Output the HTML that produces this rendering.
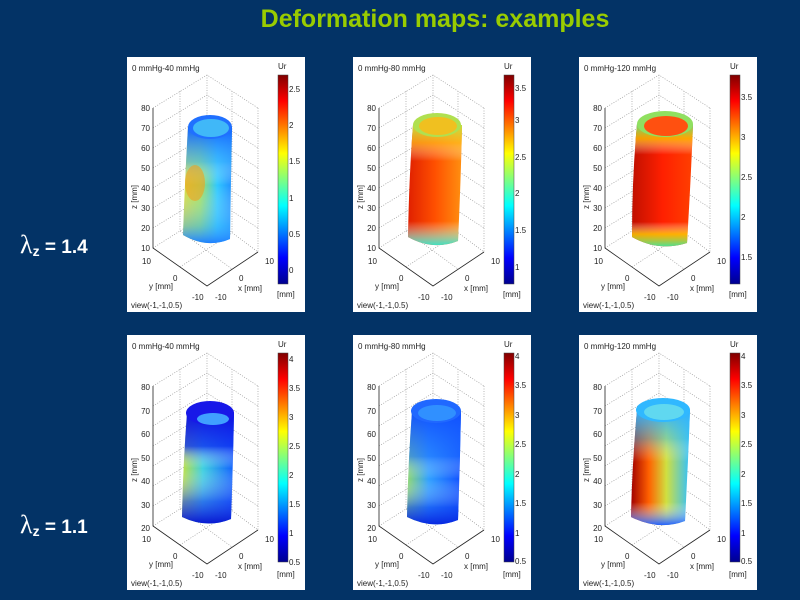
<!DOCTYPE html>
<html><head><meta charset="utf-8"><style>
html,body{margin:0;padding:0;background:#033366;}
svg{display:block;}
text{font-family:"Liberation Sans",sans-serif;}
.t{font-size:8px;fill:#222;}
</style></head><body>
<svg width="800" height="600" viewBox="0 0 800 600" xmlns="http://www.w3.org/2000/svg">
<defs>
<linearGradient id="jet" x1="0" y1="1" x2="0" y2="0">
<stop offset="0" stop-color="#00008f"/><stop offset="0.125" stop-color="#0000ff"/><stop offset="0.375" stop-color="#00ffff"/><stop offset="0.625" stop-color="#ffff00"/><stop offset="0.875" stop-color="#ff0000"/><stop offset="1" stop-color="#800000"/>
</linearGradient>
<linearGradient id="h1" x1="0" x2="1"><stop offset="0" stop-color="#d8d838"/><stop offset="0.35" stop-color="#a0e060"/><stop offset="0.7" stop-color="#30c8ff"/><stop offset="1" stop-color="#2090ff"/></linearGradient>
<linearGradient id="v1" x1="0" y1="0" x2="0" y2="1"><stop offset="0" stop-color="#1060ff"/><stop offset="0.3" stop-color="#40b0ff" stop-opacity="0.6"/><stop offset="0.5" stop-color="#fff" stop-opacity="0"/><stop offset="0.85" stop-color="#40b0ff" stop-opacity="0.5"/><stop offset="1" stop-color="#2080ff"/></linearGradient>
<linearGradient id="h2" x1="0" x2="1"><stop offset="0" stop-color="#e02000"/><stop offset="0.5" stop-color="#ff5000"/><stop offset="1" stop-color="#ff9010"/></linearGradient>
<linearGradient id="v2" x1="0" y1="0" x2="0" y2="1"><stop offset="0" stop-color="#c0e040"/><stop offset="0.15" stop-color="#ffc020" stop-opacity="0.7"/><stop offset="0.3" stop-color="#fff" stop-opacity="0"/><stop offset="0.8" stop-color="#fff" stop-opacity="0"/><stop offset="1" stop-color="#40e0c0"/></linearGradient>
<linearGradient id="h3" x1="0" x2="1"><stop offset="0" stop-color="#c01000"/><stop offset="0.5" stop-color="#ff2000"/><stop offset="1" stop-color="#ff4000"/></linearGradient>
<linearGradient id="v3" x1="0" y1="0" x2="0" y2="1"><stop offset="0" stop-color="#60e080"/><stop offset="0.12" stop-color="#ffc000" stop-opacity="0.8"/><stop offset="0.25" stop-color="#fff" stop-opacity="0"/><stop offset="0.8" stop-color="#fff" stop-opacity="0"/><stop offset="0.9" stop-color="#ffd000" stop-opacity="0.8"/><stop offset="1" stop-color="#50e090"/></linearGradient>
<linearGradient id="h4" x1="0" x2="1"><stop offset="0" stop-color="#c0e040"/><stop offset="0.4" stop-color="#40d0e0"/><stop offset="1" stop-color="#1060ff"/></linearGradient>
<linearGradient id="v4" x1="0" y1="0" x2="0" y2="1"><stop offset="0" stop-color="#1010e0"/><stop offset="0.3" stop-color="#1030f0" stop-opacity="0.8"/><stop offset="0.5" stop-color="#fff" stop-opacity="0"/><stop offset="0.8" stop-color="#2040f0" stop-opacity="0.6"/><stop offset="1" stop-color="#0818d0"/></linearGradient>
<linearGradient id="h5" x1="0" x2="1"><stop offset="0" stop-color="#90d870"/><stop offset="0.4" stop-color="#30a0ff"/><stop offset="1" stop-color="#1050ff"/></linearGradient>
<linearGradient id="v5" x1="0" y1="0" x2="0" y2="1"><stop offset="0" stop-color="#1050ff"/><stop offset="0.4" stop-color="#2070ff" stop-opacity="0.6"/><stop offset="0.6" stop-color="#fff" stop-opacity="0"/><stop offset="0.85" stop-color="#1040f0" stop-opacity="0.6"/><stop offset="1" stop-color="#0828e0"/></linearGradient>
<linearGradient id="h6" x1="0" x2="1"><stop offset="0" stop-color="#a00000"/><stop offset="0.3" stop-color="#ff6000"/><stop offset="0.6" stop-color="#d0e040"/><stop offset="1" stop-color="#30c0ff"/></linearGradient>
<linearGradient id="v6" x1="0" y1="0" x2="0" y2="1"><stop offset="0" stop-color="#30b0ff"/><stop offset="0.25" stop-color="#40c0f0" stop-opacity="0.5"/><stop offset="0.45" stop-color="#fff" stop-opacity="0"/><stop offset="0.8" stop-color="#fff" stop-opacity="0"/><stop offset="1" stop-color="#2060ff"/></linearGradient>
<g id="boxA" fill="none">
<g stroke="#9a9a9a" stroke-width="0.7" stroke-dasharray="1,1.5">
<path d="M26 51L80 18L131 51M80 18V157M26 191L80 157L131 195M131 51V195M53 34V174M105 34V176"/>
<path d="M26 71L80 38L131 71M26 91L80 58L131 91M26 111L80 78L131 111M26 131L80 98L131 131M26 151L80 118L131 151M26 171L80 138L131 171"/>
<path d="M53 210L105 176M53 174L105 212"/>
</g>
<path d="M26 51V191L80 229L131 195" stroke="#222" stroke-width="0.8"/>
</g>
<g id="cbar"><rect x="151" y="18" width="10" height="209" fill="url(#jet)" stroke="#444" stroke-width="0.5"/></g>
</defs>

<rect width="800" height="600" fill="#033366"/>
<text x="435" y="27" text-anchor="middle" font-size="25" font-weight="bold" fill="#99cc00" style="font-family:'Liberation Sans',sans-serif">Deformation maps: examples</text>

<text x="20" y="253" fill="#fff" font-size="19" font-weight="bold"><tspan font-size="26" font-weight="normal" style="font-family:'Liberation Serif',serif">λ</tspan><tspan font-size="14" dy="3">z</tspan><tspan dy="-3"> = 1.4</tspan></text>
<text x="20" y="533" fill="#fff" font-size="19" font-weight="bold"><tspan font-size="26" font-weight="normal" style="font-family:'Liberation Serif',serif">λ</tspan><tspan font-size="14" dy="3">z</tspan><tspan dy="-3"> = 1.1</tspan></text>

<!-- Panel 1 -->
<g transform="translate(127,57)">
<rect width="178" height="255" fill="#fff"/>
<use href="#boxA"/>
<path d="M61 70 Q58 120 56 178 Q80 192 103 182 Q104 120 105 70 Z" fill="url(#h1)"/>
<path d="M61 70 Q58 120 56 178 Q80 192 103 182 Q104 120 105 70 Z" fill="url(#v1)"/>
<ellipse cx="83" cy="70" rx="22" ry="12" fill="#2070ff"/><ellipse cx="84" cy="71" rx="18" ry="9" fill="#40b8f8"/>
<ellipse cx="68" cy="126" rx="10" ry="18" fill="#f0a020" opacity="0.6"/>
<text class="t" x="5" y="14">0 mmHg-40 mmHg</text><text class="t" x="151" y="12">Ur</text>
<use href="#cbar"/>
<g class="t"><text x="162" y="35">2.5</text><text x="162" y="71">2</text><text x="162" y="107">1.5</text><text x="162" y="144">1</text><text x="162" y="180">0.5</text><text x="162" y="216">0</text></g>
<text class="t" x="150" y="240">[mm]</text>
<g class="t" text-anchor="end"><text x="23" y="54">80</text><text x="23" y="74">70</text><text x="23" y="94">60</text><text x="23" y="114">50</text><text x="23" y="134">40</text><text x="23" y="154">30</text><text x="23" y="174">20</text><text x="23" y="194">10</text></g>
<text class="t" transform="translate(10,140) rotate(-90)" text-anchor="middle">z [mm]</text>
<g class="t"><text x="15" y="207">10</text><text x="46" y="224">0</text><text x="65" y="243">-10</text><text x="88" y="243">-10</text><text x="112" y="224">0</text><text x="138" y="207">10</text><text x="22" y="232">y [mm]</text><text x="111" y="234">x [mm]</text><text x="4" y="251">view(-1,-1,0.5)</text></g>
</g>

<!-- Panel 2 -->
<g transform="translate(353,57)">
<rect width="178" height="255" fill="#fff"/>
<use href="#boxA"/>
<path d="M60 68 Q56 120 55 180 Q80 194 105 184 Q108 120 109 68 Z" fill="url(#h2)"/>
<path d="M60 68 Q56 120 55 180 Q80 194 105 184 Q108 120 109 68 Z" fill="url(#v2)"/>
<ellipse cx="84" cy="68" rx="24" ry="12" fill="#b0e050"/><ellipse cx="85" cy="69" rx="19" ry="9" fill="#f0c020"/>
<text class="t" x="5" y="14">0 mmHg-80 mmHg</text><text class="t" x="151" y="12">Ur</text>
<use href="#cbar"/>
<g class="t"><text x="162" y="34">3.5</text><text x="162" y="66">3</text><text x="162" y="103">2.5</text><text x="162" y="139">2</text><text x="162" y="176">1.5</text><text x="162" y="213">1</text></g>
<text class="t" x="150" y="240">[mm]</text>
<g class="t" text-anchor="end"><text x="23" y="54">80</text><text x="23" y="74">70</text><text x="23" y="94">60</text><text x="23" y="114">50</text><text x="23" y="134">40</text><text x="23" y="154">30</text><text x="23" y="174">20</text><text x="23" y="194">10</text></g>
<text class="t" transform="translate(10,140) rotate(-90)" text-anchor="middle">z [mm]</text>
<g class="t"><text x="15" y="207">10</text><text x="46" y="224">0</text><text x="65" y="243">-10</text><text x="88" y="243">-10</text><text x="112" y="224">0</text><text x="138" y="207">10</text><text x="22" y="232">y [mm]</text><text x="111" y="234">x [mm]</text><text x="4" y="251">view(-1,-1,0.5)</text></g>
</g>

<!-- Panel 3 -->
<g transform="translate(579,57)">
<rect width="178" height="255" fill="#fff"/>
<use href="#boxA"/>
<path d="M58 67 Q53 120 53 180 Q80 195 108 186 Q112 120 114 67 Z" fill="url(#h3)"/>
<path d="M58 67 Q53 120 53 180 Q80 195 108 186 Q112 120 114 67 Z" fill="url(#v3)"/>
<ellipse cx="86" cy="67" rx="28" ry="13" fill="#90e060"/><ellipse cx="87" cy="69" rx="22" ry="10" fill="#ff5010"/>
<text class="t" x="5" y="14">0 mmHg-120 mmHg</text><text class="t" x="151" y="12">Ur</text>
<use href="#cbar"/>
<g class="t"><text x="162" y="43">3.5</text><text x="162" y="83">3</text><text x="162" y="123">2.5</text><text x="162" y="163">2</text><text x="162" y="203">1.5</text></g>
<text class="t" x="150" y="240">[mm]</text>
<g class="t" text-anchor="end"><text x="23" y="54">80</text><text x="23" y="74">70</text><text x="23" y="94">60</text><text x="23" y="114">50</text><text x="23" y="134">40</text><text x="23" y="154">30</text><text x="23" y="174">20</text><text x="23" y="194">10</text></g>
<text class="t" transform="translate(10,140) rotate(-90)" text-anchor="middle">z [mm]</text>
<g class="t"><text x="15" y="207">10</text><text x="46" y="224">0</text><text x="65" y="243">-10</text><text x="88" y="243">-10</text><text x="112" y="224">0</text><text x="138" y="207">10</text><text x="22" y="232">y [mm]</text><text x="111" y="234">x [mm]</text><text x="4" y="251">view(-1,-1,0.5)</text></g>
</g>

<!-- Panel 4 -->
<g transform="translate(127,335)">
<rect width="178" height="255" fill="#fff"/>
<use href="#boxA"/>
<path d="M60 78 Q56 130 55 182 Q80 194 104 184 Q106 130 107 78 Z" fill="url(#h4)"/>
<path d="M60 78 Q56 130 55 182 Q80 194 104 184 Q106 130 107 78 Z" fill="url(#v4)"/>
<ellipse cx="83" cy="78" rx="24" ry="12" fill="#1818e8"/><ellipse cx="86" cy="84" rx="16" ry="6" fill="#40a0ff"/>
<text class="t" x="5" y="14">0 mmHg-40 mmHg</text><text class="t" x="151" y="12">Ur</text>
<use href="#cbar"/>
<g class="t"><text x="162" y="27">4</text><text x="162" y="56">3.5</text><text x="162" y="85">3</text><text x="162" y="114">2.5</text><text x="162" y="143">2</text><text x="162" y="172">1.5</text><text x="162" y="201">1</text><text x="162" y="230">0.5</text></g>
<text class="t" x="150" y="242">[mm]</text>
<g class="t" text-anchor="end"><text x="23" y="55">80</text><text x="23" y="79">70</text><text x="23" y="102">60</text><text x="23" y="126">50</text><text x="23" y="149">40</text><text x="23" y="173">30</text><text x="23" y="196">20</text></g>
<text class="t" transform="translate(10,135) rotate(-90)" text-anchor="middle">z [mm]</text>
<g class="t"><text x="15" y="207">10</text><text x="46" y="224">0</text><text x="65" y="243">-10</text><text x="88" y="243">-10</text><text x="112" y="224">0</text><text x="138" y="207">10</text><text x="22" y="232">y [mm]</text><text x="111" y="234">x [mm]</text><text x="4" y="251">view(-1,-1,0.5)</text></g>
</g>

<!-- Panel 5 -->
<g transform="translate(353,335)">
<rect width="178" height="255" fill="#fff"/>
<use href="#boxA"/>
<path d="M59 76 Q55 130 54 182 Q80 195 105 185 Q107 130 108 76 Z" fill="url(#h5)"/>
<path d="M59 76 Q55 130 54 182 Q80 195 105 185 Q107 130 108 76 Z" fill="url(#v5)"/>
<ellipse cx="83" cy="76" rx="25" ry="12" fill="#2068ff"/><ellipse cx="84" cy="78" rx="19" ry="8" fill="#3090ff"/>
<text class="t" x="5" y="14">0 mmHg-80 mmHg</text><text class="t" x="151" y="12">Ur</text>
<use href="#cbar"/>
<g class="t"><text x="162" y="24">4</text><text x="162" y="53">3.5</text><text x="162" y="83">3</text><text x="162" y="112">2.5</text><text x="162" y="142">2</text><text x="162" y="171">1.5</text><text x="162" y="201">1</text><text x="162" y="229">0.5</text></g>
<text class="t" x="150" y="242">[mm]</text>
<g class="t" text-anchor="end"><text x="23" y="55">80</text><text x="23" y="79">70</text><text x="23" y="102">60</text><text x="23" y="126">50</text><text x="23" y="149">40</text><text x="23" y="173">30</text><text x="23" y="196">20</text></g>
<text class="t" transform="translate(10,135) rotate(-90)" text-anchor="middle">z [mm]</text>
<g class="t"><text x="15" y="207">10</text><text x="46" y="224">0</text><text x="65" y="243">-10</text><text x="88" y="243">-10</text><text x="112" y="224">0</text><text x="138" y="207">10</text><text x="22" y="232">y [mm]</text><text x="111" y="234">x [mm]</text><text x="4" y="251">view(-1,-1,0.5)</text></g>
</g>

<!-- Panel 6 -->
<g transform="translate(579,335)">
<rect width="178" height="255" fill="#fff"/>
<use href="#boxA"/>
<path d="M58 75 Q53 130 52 182 Q80 196 106 186 Q109 130 111 75 Z" fill="url(#h6)"/>
<path d="M58 75 Q53 130 52 182 Q80 196 106 186 Q109 130 111 75 Z" fill="url(#v6)"/>
<ellipse cx="84" cy="75" rx="27" ry="12" fill="#30b8ff"/><ellipse cx="85" cy="77" rx="20" ry="8" fill="#60d8f0"/>
<text class="t" x="5" y="14">0 mmHg-120 mmHg</text><text class="t" x="151" y="12">Ur</text>
<use href="#cbar"/>
<g class="t"><text x="162" y="24">4</text><text x="162" y="53">3.5</text><text x="162" y="83">3</text><text x="162" y="112">2.5</text><text x="162" y="142">2</text><text x="162" y="171">1.5</text><text x="162" y="201">1</text><text x="162" y="229">0.5</text></g>
<text class="t" x="150" y="242">[mm]</text>
<g class="t" text-anchor="end"><text x="23" y="55">80</text><text x="23" y="79">70</text><text x="23" y="102">60</text><text x="23" y="126">50</text><text x="23" y="149">40</text><text x="23" y="173">30</text><text x="23" y="196">20</text></g>
<text class="t" transform="translate(10,135) rotate(-90)" text-anchor="middle">z [mm]</text>
<g class="t"><text x="15" y="207">10</text><text x="46" y="224">0</text><text x="65" y="243">-10</text><text x="88" y="243">-10</text><text x="112" y="224">0</text><text x="138" y="207">10</text><text x="22" y="232">y [mm]</text><text x="111" y="234">x [mm]</text><text x="4" y="251">view(-1,-1,0.5)</text></g>
</g>
</svg>
</body></html>
